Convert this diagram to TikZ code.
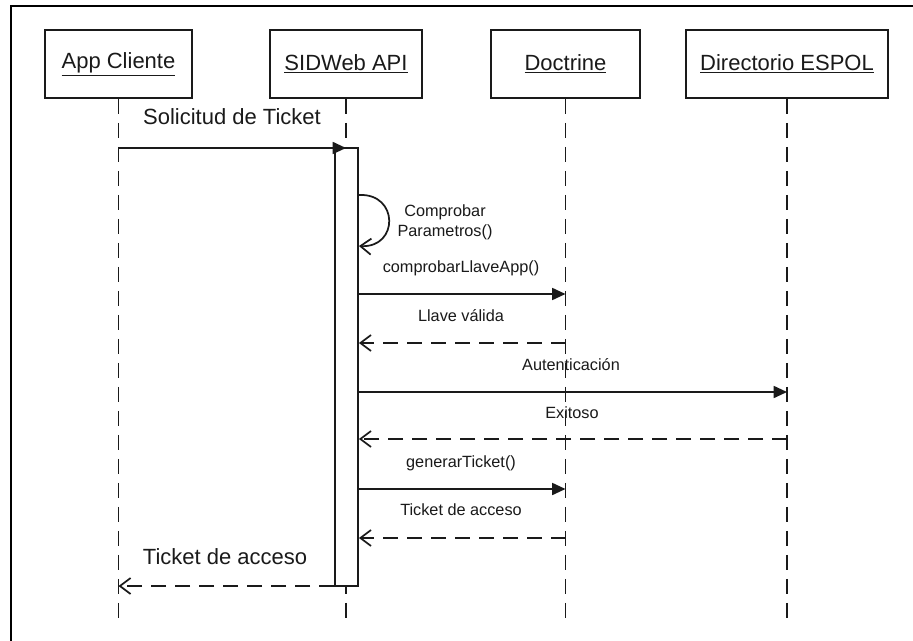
\documentclass[tikz,border=0pt]{standalone}
\usepackage{fontspec}
\setmainfont{Liberation Sans}
\usetikzlibrary{arrows.meta}
\definecolor{ink}{HTML}{1A1A1A}
\begin{document}
\begin{tikzpicture}[x=0.75pt,y=-0.75pt,
  head/.style={draw=ink, line width=1.3pt, minimum height=51pt, inner sep=0pt,
    font=\fontsize{16.5}{18}\selectfont, text=ink},
  life/.style={draw=ink, line width=1.3pt, dash pattern=on 11pt off 7pt},
  msg/.style={draw=ink, line width=1.3pt, -{Triangle[length=10pt,width=9pt]}},
  ret/.style={draw=ink, line width=1.3pt, dash pattern=on 11pt off 7pt, -{Straight Barb[length=8pt,width=12pt]}},
  selfmsg/.style={draw=ink, line width=1.3pt, -{Straight Barb[length=8pt,width=12pt]}},
  lbl/.style={font=\fontsize{12.2}{15}\selectfont, text=ink, align=center, inner sep=0pt},
  big/.style={font=\fontsize{16.5}{18}\selectfont, text=ink, inner sep=0pt}]
\useasboundingbox (0,0) rectangle (913,641);
\clip (0,0) rectangle (913,641);
\fill[white] (0,0) rectangle (913,641);
\draw[black, line width=2.2pt] (11,6) rectangle (960,700);

% participants
\node[head, minimum width=110pt] (app) at (118.5,64) {\underline{App Cliente}};
\node[head, minimum width=114pt] (sid) at (346,64) {\underline{SIDWeb API}};
\node[head, minimum width=112pt] (doc) at (565.5,64) {\underline{Doctrine}};
\node[head, minimum width=151.5pt] (dir) at (787,64) {\underline{Directorio ESPOL}};

% lifelines
\draw[life] (app.south) -- (app.south |- 0,618);
\draw[life] (sid.south) -- (sid.south |- 0,618);
\draw[life] (doc.south) -- (doc.south |- 0,618);
\draw[life] (dir.south) -- (dir.south |- 0,618);

% activation bar
\node[draw=ink, line width=1.4pt, fill=white, minimum width=17.25pt, minimum height=328.5pt, inner sep=0pt] (act) at (346.5,367) {};

% messages
\node[big] (l1) at (232,117) {Solicitud de Ticket};
\draw[msg] (app.south |- 0,148) -- (sid.south |- 0,148);

\node[lbl] (l2) at (445,222) {Comprobar\\Parametros()};
\draw[selfmsg] (act.east |- 0,195) .. controls +(40,-2) and +(40,2) .. (act.east |- 0,246);

\node[lbl] (l3) at (461,268) {comprobarLlaveApp()};
\draw[msg] (act.east |- 0,294) -- (doc.south |- 0,294);

\node[lbl] (l4) at (461,316) {Llave válida};
\draw[ret] (doc.south |- 0,343) -- (act.east |- 0,343);

\node[lbl] (l5) at (571,365) {Autenticación};
\draw[msg] (act.east |- 0,392) -- (dir.south |- 0,392);

\node[lbl] (l6) at (572,413) {Exitoso};
\draw[ret] (dir.south |- 0,439) -- (act.east |- 0,439);

\node[lbl] (l7) at (461,463) {generarTicket()};
\draw[msg] (act.east |- 0,489) -- (doc.south |- 0,489);

\node[lbl] (l8) at (461,510) {Ticket de acceso};
\draw[ret] (doc.south |- 0,538) -- (act.east |- 0,538);

\node[big] (l9) at (225,557) {Ticket de acceso};
\draw[ret] (act.west |- 0,586) -- (app.south |- 0,586);
\end{tikzpicture}
\end{document}
